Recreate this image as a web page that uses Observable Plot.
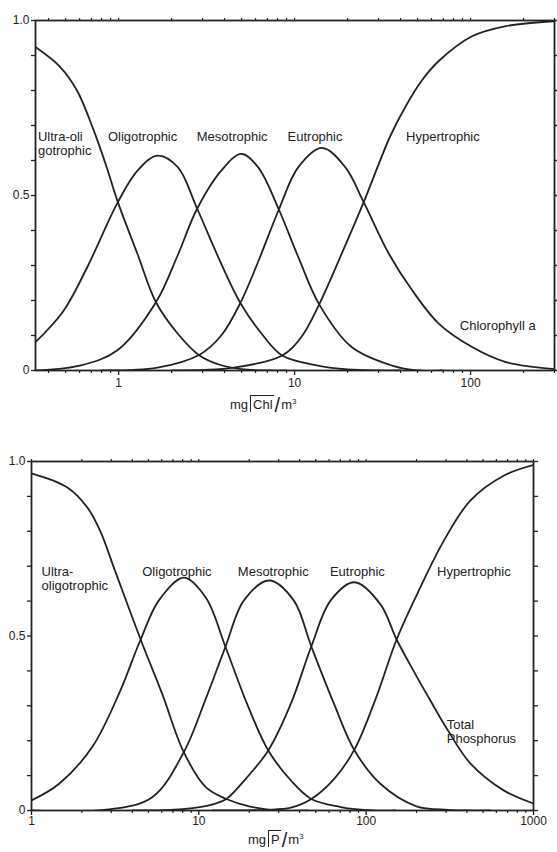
<!DOCTYPE html>
<html><head><meta charset="utf-8">
<script src="https://cdn.jsdelivr.net/npm/d3@7"></script>
<script src="https://cdn.jsdelivr.net/npm/@observablehq/plot@0.6"></script>
<style>
body{margin:0;background:#fff;font-family:"Liberation Sans",Arial,sans-serif;color:#222}
#wrap{position:relative;width:557px;height:852px;overflow:hidden;background:#fff}
.panel{position:absolute;left:0}
.xlab{position:absolute;font-size:13px;line-height:16px;white-space:nowrap;color:#222}
.bar{border-top:1.4px solid #222;border-left:1.4px solid #222;padding:1px 1px 0 2px;margin-left:2px}
.sl{font-size:20px;font-weight:300;vertical-align:-3px;margin:0 1px}
sup{font-size:8px}
</style></head>
<body><div id="wrap"></div>
<script>
// ---------- Panel 1: Chlorophyll a (mg/m3) ----------
const chlUltra = [[0.337,0.924],[0.466,0.867],[0.58,0.80],[0.722,0.686],[0.85,0.585],[0.99,0.481],[1.28,0.333],[1.63,0.195],[2.17,0.105],[2.88,0.043],[3.83,0.015],[5.0,0.004],[7.0,0.0],[9.0,0.0]];
const chlOligo = [[0.337,0.081],[0.487,0.171],[0.663,0.295],[0.99,0.481],[1.28,0.571],[1.664,0.614],[2.17,0.581],[2.78,0.465],[3.83,0.305],[4.92,0.193],[6.5,0.105],[8.5,0.043],[13.6,0.014],[20,0.003],[30,0.0],[40,0.0]];
const chlMeso = [[0.337,0.0],[0.6,0.014],[0.98,0.057],[1.63,0.195],[2.17,0.33],[2.78,0.46],[3.83,0.571],[4.98,0.619],[6.2,0.581],[8.14,0.46],[10.5,0.324],[13.8,0.189],[21.1,0.067],[35.8,0.014],[50,0.0],[70,0.0]];
const chlEutro = [[0.8,0.0],[1.66,0.008],[2.88,0.045],[3.83,0.10],[4.92,0.193],[6.2,0.31],[8.14,0.46],[10.5,0.581],[14.3,0.636],[19.4,0.581],[24.7,0.481],[34.4,0.333],[46.6,0.229],[66.2,0.133],[102,0.067],[159,0.024],[300,0.004]];
const chlHyper = [[2.0,0.0],[4.5,0.008],[8.5,0.043],[10.9,0.095],[13.8,0.189],[18.5,0.333],[24.7,0.481],[35.0,0.67],[42.8,0.755],[53.1,0.83],[66.2,0.885],[102,0.955],[159,0.984],[246,0.995],[300,0.998]];
const chlDomain = [0.337, 300];
const chlMinorTicks = [0.4,0.5,0.6,0.7,0.8,0.9,2,3,4,5,6,7,8,9,20,30,40,50,60,70,80,90,200,300];
const chlMajorTicks = [1,10,100];
const chlLabels = [
  {x:0.348, y:0.683, t:"Ultra-oli\ngotrophic"},
  {x:0.869, y:0.683, t:"Oligotrophic"},
  {x:2.78,  y:0.683, t:"Mesotrophic"},
  {x:9.12,  y:0.683, t:"Eutrophic"},
  {x:43.0,  y:0.683, t:"Hypertrophic"},
  {x:86.9,  y:0.143, t:"Chlorophyll a"}
];

// ---------- Panel 2: Total phosphorus (mg/m3) ----------
const tpUltra = [[1,0.966],[1.63,0.926],[2.15,0.869],[2.58,0.80],[3.15,0.688],[4.49,0.49],[6.04,0.334],[8.13,0.167],[11.0,0.067],[14.6,0.033],[20,0.012],[31,0.0],[45,0.0]];
const tpOligo = [[1,0.029],[1.457,0.076],[2.30,0.181],[3.33,0.334],[4.49,0.49],[5.77,0.602],[8.13,0.667],[11.0,0.61],[14.4,0.47],[19.4,0.306],[26,0.172],[35.5,0.086],[47,0.033],[70.5,0.01],[110,0.0],[150,0.0]];
const tpMeso = [[1,0.0],[2.9,0.003],[5.27,0.038],[8.13,0.167],[11.0,0.32],[14.4,0.468],[18.6,0.602],[26.3,0.659],[36.9,0.602],[47,0.47],[64.2,0.306],[85.2,0.172],[122,0.076],[200,0.012],[309,0.002],[400,0.0],[550,0.0]];
const tpEutro = [[4,0.0],[8,0.004],[12.6,0.02],[14.6,0.033],[19.4,0.095],[26,0.172],[35.5,0.306],[47,0.47],[61.4,0.602],[85.2,0.654],[122,0.59],[152,0.49],[193,0.398],[242,0.315],[303,0.235],[419,0.135],[667,0.057],[1000,0.02]];
const tpHyper = [[12,0.0],[25,0.002],[35.5,0.008],[47,0.033],[64.2,0.09],[85.2,0.175],[116,0.33],[152,0.49],[211,0.64],[292,0.774],[419,0.888],[667,0.96],[1000,0.99]];
const tpDomain = [1, 1000];
const tpMinorTicks = [2,3,4,5,6,7,8,9,20,30,40,50,60,70,80,90,200,300,400,500,600,700,800,900];
const tpMajorTicks = [1,10,100,1000];
const tpLabels = [
  {x:1.148, y:0.699, t:"Ultra-\noligotrophic"},
  {x:4.59,  y:0.699, t:"Oligotrophic"},
  {x:17.1,  y:0.699, t:"Mesotrophic"},
  {x:60.7,  y:0.699, t:"Eutrophic"},
  {x:265,   y:0.699, t:"Hypertrophic"},
  {x:303,   y:0.261, t:"Total\nPhosphorus"}
];

// y axis (probability)
const yTicks = [0,0.1,0.2,0.3,0.4,0.5,0.6,0.7,0.8,0.9,1.0];
const yTickLabels = {0:"0", 0.5:"0.5", 1:"1.0"};

const INK = "#222";
function toRows(series){
  const rows=[];
  for(const [name,pts] of series) for(const [x,y] of pts) rows.push({series:name,x,y});
  return rows;
}
function panel({rows, domain, minor, major, labels, height, mt, mb, ml, mr, fmt}){
  return Plot.plot({
    width:557, height, marginTop:mt, marginBottom:mb, marginLeft:ml, marginRight:mr,
    x:{type:"log", domain, label:null},
    y:{domain:[0,1], label:null},
    style:{fontFamily:"'Liberation Sans', Arial, sans-serif", fontSize:"12px", color:INK, background:"#fff"},
    marks:[
      Plot.axisY({ticks:yTicks, tickSize:4, tickPadding:2, tickFormat:d=>yTickLabels[d] ?? "", label:null, fontSize:12, strokeWidth:1.3}),
      Plot.axisY({anchor:"right", ticks:yTicks, tickSize:4, tickFormat:()=>"", label:null, strokeWidth:1.3}),
      Plot.axisX({ticks:minor, tickSize:3, tickFormat:()=>"", label:null, strokeWidth:1.2}),
      Plot.axisX({ticks:major, tickSize:5, tickPadding:fmt, tickFormat:d=>String(d), label:null, fontSize:12, strokeWidth:1.3}),
      Plot.axisX({anchor:"top", ticks:minor.concat(major), tickSize:3, tickFormat:()=>"", label:null, strokeWidth:1.2}),
      Plot.line(rows, {x:"x", y:"y", z:"series", stroke:INK, strokeWidth:1.8, curve:"catmull-rom", clip:true}),
      Plot.text(labels, {x:"x", y:"y", text:"t", textAnchor:"start", lineAnchor:"top", fontSize:13, lineHeight:1.05, fill:INK}),
      Plot.frame({stroke:INK, strokeWidth:1.8})
    ]
  });
}

const wrap = document.getElementById("wrap");

const p1 = panel({
  rows: toRows([["Ultra-oligotrophic",chlUltra],["Oligotrophic",chlOligo],["Mesotrophic",chlMeso],["Eutrophic",chlEutro],["Hypertrophic",chlHyper]]),
  domain: chlDomain, minor: chlMinorTicks, major: chlMajorTicks, labels: chlLabels,
  height:392, mt:20, mb:22, ml:35, mr:3, fmt:3
});
p1.classList.add("panel"); p1.style.top="0px";
wrap.appendChild(p1);

const l1 = document.createElement("div");
l1.className="xlab"; l1.style.left="230px"; l1.style.top="394px";
l1.innerHTML = 'mg<span class="bar">Chl</span><span class="sl">/</span>m<sup>3</sup>';
wrap.appendChild(l1);

const p2 = panel({
  rows: toRows([["Ultra-oligotrophic",tpUltra],["Oligotrophic",tpOligo],["Mesotrophic",tpMeso],["Eutrophic",tpEutro],["Hypertrophic",tpHyper]]),
  domain: tpDomain, minor: tpMinorTicks, major: tpMajorTicks, labels: tpLabels,
  height:392, mt:21, mb:22, ml:31, mr:24, fmt:1
});
p2.classList.add("panel"); p2.style.top="440px";
wrap.appendChild(p2);

const l2 = document.createElement("div");
l2.className="xlab"; l2.style.left="248px"; l2.style.top="829px";
l2.innerHTML = 'mg<span class="bar">P</span><span class="sl">/</span>m<sup>3</sup>';
wrap.appendChild(l2);
</script></body></html>
